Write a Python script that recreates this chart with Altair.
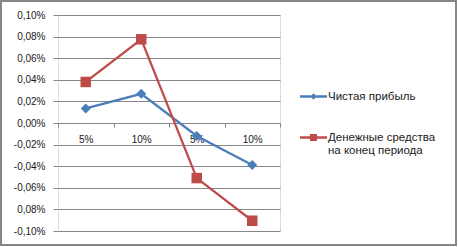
import altair as alt
import pandas as pd

categories = ["5%", "10%", "5%", "10%"]
series_names = ["Чистая прибыль", "Денежные средства|на конец периода"]
net_profit = [0.0135, 0.027, -0.012, -0.039]
cash_end = [0.038, 0.0775, -0.051, -0.0905]
y_ticks = [-0.10, -0.08, -0.06, -0.04, -0.02, 0.0, 0.02, 0.04, 0.06, 0.08, 0.10]
y_tick_labels = ["-0,10%", "0,08%", "-0,06%", "-0,04%", "-0,02%", "0,00%",
                 "0,02%", "0,04%", "0,06%", "0,08%", "0,10%"]
colors = ["#4A7EBB", "#BE4B48"]
marker_shapes = ["diamond", "square"]
legend_paths = [
    "M-1,-0.085H1V0.085H-1Z M0,-0.24L0.24,0L0,0.24L-0.24,0Z",
    "M-1,-0.085H1V0.085H-1Z M-0.26,-0.26H0.26V0.26H-0.26Z",
]

rows = []
for name, vals in zip(series_names, [net_profit, cash_end]):
    for i, v in enumerate(vals):
        rows.append({"series": name, "idx": i, "value": v})
df = pd.DataFrame(rows)

cat_expr = "[" + ",".join("'%s'" % c for c in categories) + "][datum.value]"
ylab_expr = "[" + ",".join("'%s'" % t for t in y_tick_labels) + "][round((datum.value + 0.1) / 0.02)]"

FONT = "Liberation Sans"
TXT = "#1a1a1a"
GRID = "#868686"

x_enc = alt.X(
    "idx:O",
    scale=alt.Scale(paddingInner=0, paddingOuter=0),
    axis=alt.Axis(
        title=None, labelExpr=cat_expr, labelAngle=0, offset=-108,
        tickBand="extent", ticks=True, tickSize=4, tickColor=GRID,
        domainColor=GRID, domainWidth=1, grid=False, labelPadding=7,
        labelFont=FONT, labelFontSize=10, labelColor=TXT,
    ),
)
y_enc = alt.Y(
    "value:Q",
    scale=alt.Scale(domain=[-0.1, 0.1], nice=False, zero=False),
    axis=alt.Axis(
        title=None, values=y_ticks, labelExpr=ylab_expr, domain=False,
        ticks=True, tickSize=5, tickColor=GRID, gridColor=GRID, gridWidth=1,
        labelPadding=8, labelFont=FONT, labelFontSize=10, labelColor=TXT,
    ),
)
color_scale = alt.Scale(domain=series_names, range=colors)

legend = alt.Legend(
    title=None, orient="none", legendX=242, legendY=68, padding=0,
    labelFont=FONT, labelFontSize=11.5, labelColor=TXT,
    labelExpr="split(datum.label, '|')", labelBaseline="middle",
    labelOffset=1, labelLimit=200, rowPadding=22, symbolSize=729,
    symbolOpacity=1, symbolStrokeWidth=0,
)

carrier = alt.Chart(df).mark_point(filled=True, opacity=0, size=729).encode(
    x=x_enc, y=y_enc,
    color=alt.Color("series:N", sort=series_names, scale=color_scale, legend=legend),
    shape=alt.Shape("series:N", sort=series_names,
                    scale=alt.Scale(domain=series_names, range=legend_paths),
                    legend=legend),
)

lines = alt.Chart(df).mark_line(strokeWidth=2.25).encode(
    x=x_enc, y=y_enc,
    color=alt.Color("series:N", sort=series_names, scale=color_scale, legend=None),
    order="idx:O",
)

point_layers = []
for name, shp in zip(series_names, marker_shapes):
    point_layers.append(
        alt.Chart(df).transform_filter(alt.datum.series == name)
        .mark_point(filled=True, opacity=1, size=100 if shp == "diamond" else 110, shape=shp)
        .encode(
            x=x_enc, y=y_enc,
            color=alt.Color("series:N", sort=series_names, scale=color_scale, legend=None),
        )
    )

frame = alt.Chart(df).mark_rect(
    fill=None, stroke=GRID, strokeWidth=1.5, clip=False
).encode(
    x=alt.value(-57.3), x2=alt.value(398), y=alt.value(-14.3), y2=alt.value(230)
)

chart = alt.layer(frame, carrier, lines, *point_layers).properties(
    width=222, height=216,
    autosize=alt.AutoSizeParams(type="none"),
    padding={"left": 58, "top": 15, "right": 178, "bottom": 16},
).configure_view(stroke=None).configure(background="white")

chart.save("out.html", embed_options={"renderer": "svg", "actions": False})
